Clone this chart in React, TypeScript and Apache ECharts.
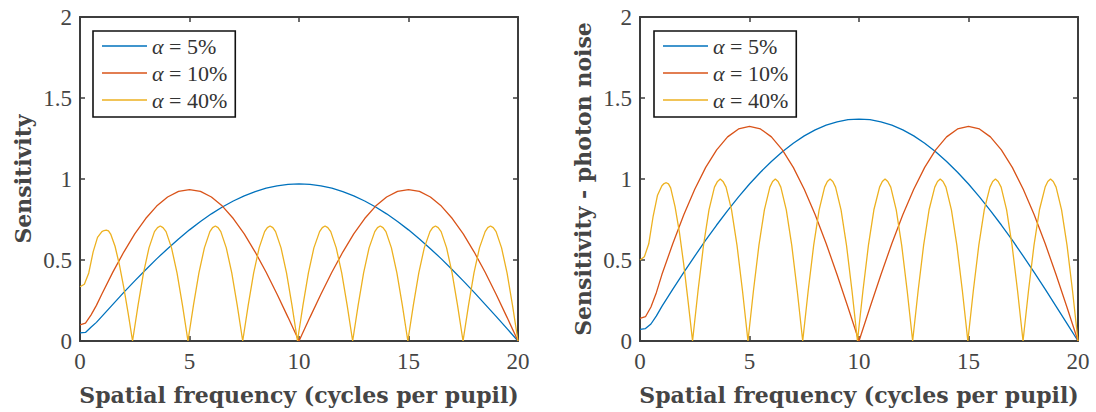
import React, { useEffect, useRef } from 'react';
import * as echarts from 'echarts';

const seriesNames = ['α = 5%', 'α = 10%', 'α = 40%'];
const xTickValues = [0, 5, 10, 15, 20];
const yTickValues = [0, 0.5, 1, 1.5, 2];
const xAxisTitle = 'Spatial frequency (cycles per pupil)';
const yAxisTitles = ['Sensitivity', 'Sensitivity - photon noise'];

const leftBlue = [[0,0.05],[0.25,0.053],[0.5,0.085],[0.75,0.115],[1,0.152],[1.5,0.226],[2,0.30],[2.5,0.371],[3,0.44],[3.5,0.507],[4,0.57],[4.5,0.63],[5,0.686],[5.5,0.738],[6,0.785],[6.5,0.827],[7,0.864],[7.5,0.896],[8,0.922],[8.5,0.943],[9,0.958],[9.5,0.967],[10,0.97],[10.5,0.967],[11,0.958],[11.5,0.943],[12,0.922],[12.5,0.896],[13,0.864],[13.5,0.827],[14,0.785],[14.5,0.738],[15,0.686],[15.5,0.63],[16,0.57],[16.5,0.507],[17,0.44],[17.5,0.371],[18,0.30],[18.5,0.226],[19,0.152],[19.5,0.076],[20,0]];
const leftRed = [[0,0.1],[0.25,0.11],[0.5,0.16],[0.75,0.22],[1,0.29],[1.5,0.425],[2,0.549],[2.5,0.661],[3,0.756],[3.5,0.833],[4,0.889],[4.5,0.924],[5,0.935],[5.5,0.924],[6,0.889],[6.5,0.833],[7,0.756],[7.5,0.661],[8,0.549],[8.5,0.424],[9,0.289],[9.5,0.146],[10,0],[10.5,0.146],[11,0.289],[11.5,0.424],[12,0.549],[12.5,0.661],[13,0.756],[13.5,0.833],[14,0.889],[14.5,0.924],[15,0.935],[15.5,0.924],[16,0.889],[16.5,0.833],[17,0.756],[17.5,0.661],[18,0.549],[18.5,0.424],[19,0.289],[19.5,0.146],[20,0]];
const leftYellow = [[0,0.335],[0.2,0.35],[0.4,0.42],[0.6,0.55],[0.8,0.64],[1.0,0.675],[1.1,0.682],[1.2,0.685],[1.3,0.68],[1.4,0.66],[1.6,0.585],[1.8,0.47],[2.0,0.33],[2.2,0.17],[2.4,0],
[2.65,0.22],[2.9,0.42],[3.15,0.575],[3.4,0.675],[3.54,0.70],[3.665,0.71],[3.79,0.70],[3.93,0.675],[4.18,0.575],[4.43,0.42],[4.68,0.22],[4.93,0],
[5.18,0.22],[5.43,0.42],[5.68,0.575],[5.93,0.675],[6.055,0.70],[6.18,0.71],[6.305,0.70],[6.43,0.675],[6.68,0.575],[6.93,0.42],[7.18,0.22],[7.43,0],
[7.68,0.22],[7.93,0.42],[8.18,0.575],[8.43,0.675],[8.555,0.70],[8.68,0.71],[8.805,0.70],[8.93,0.675],[9.18,0.575],[9.43,0.42],[9.68,0.22],[9.93,0],
[10.18,0.22],[10.43,0.42],[10.68,0.575],[10.94,0.675],[11.065,0.70],[11.19,0.71],[11.315,0.70],[11.45,0.675],[11.7,0.575],[11.95,0.42],[12.2,0.22],[12.45,0],
[12.7,0.22],[12.95,0.42],[13.2,0.575],[13.46,0.675],[13.585,0.70],[13.71,0.71],[13.835,0.70],[13.97,0.675],[14.22,0.575],[14.47,0.42],[14.72,0.22],[14.97,0],
[15.22,0.22],[15.47,0.42],[15.72,0.575],[15.98,0.675],[16.105,0.70],[16.23,0.71],[16.355,0.70],[16.49,0.675],[16.74,0.575],[16.99,0.42],[17.24,0.22],[17.49,0],
[17.74,0.22],[17.99,0.42],[18.24,0.575],[18.5,0.675],[18.62,0.70],[18.745,0.71],[18.87,0.70],[19.0,0.675],[19.25,0.575],[19.5,0.42],[19.75,0.22],[20,0]];

const rightBlue = [[0,0.072],[0.25,0.077],[0.5,0.105],[0.75,0.155],[1,0.214],[1.5,0.32],[2,0.423],[2.5,0.524],[3,0.622],[3.5,0.716],[4,0.805],[4.5,0.89],[5,0.969],[5.5,1.042],[6,1.108],[6.5,1.168],[7,1.221],[7.5,1.266],[8,1.303],[8.5,1.332],[9,1.353],[9.5,1.366],[10,1.37],[10.5,1.366],[11,1.353],[11.5,1.332],[12,1.303],[12.5,1.266],[13,1.221],[13.5,1.168],[14,1.108],[14.5,1.042],[15,0.969],[15.5,0.89],[16,0.805],[16.5,0.716],[17,0.622],[17.5,0.524],[18,0.423],[18.5,0.32],[19,0.214],[19.5,0.107],[20,0]];
const rightRed = [[0,0.14],[0.25,0.15],[0.5,0.21],[0.75,0.3],[1,0.41],[1.5,0.602],[2,0.779],[2.5,0.937],[3,1.072],[3.5,1.18],[4,1.26],[4.5,1.309],[5,1.325],[5.5,1.309],[6,1.26],[6.5,1.18],[7,1.072],[7.5,0.937],[8,0.779],[8.5,0.602],[9,0.409],[9.5,0.207],[10,0],[10.5,0.207],[11,0.409],[11.5,0.602],[12,0.779],[12.5,0.937],[13,1.072],[13.5,1.18],[14,1.26],[14.5,1.309],[15,1.325],[15.5,1.309],[16,1.26],[16.5,1.18],[17,1.072],[17.5,0.937],[18,0.779],[18.5,0.602],[19,0.409],[19.5,0.207],[20,0]];
const rightYellow = [[0,0.5],[0.2,0.52],[0.4,0.6],[0.6,0.77],[0.8,0.9],[1.0,0.958],[1.1,0.972],[1.2,0.977],[1.3,0.97],[1.4,0.945],[1.6,0.83],[1.8,0.67],[2.0,0.47],[2.2,0.24],[2.4,0],
[2.65,0.31],[2.9,0.59],[3.15,0.81],[3.4,0.95],[3.54,0.985],[3.665,1.0],[3.79,0.985],[3.93,0.95],[4.18,0.81],[4.43,0.59],[4.68,0.31],[4.93,0],
[5.18,0.31],[5.43,0.59],[5.68,0.81],[5.93,0.95],[6.055,0.985],[6.18,1.0],[6.305,0.985],[6.43,0.95],[6.68,0.81],[6.93,0.59],[7.18,0.31],[7.43,0],
[7.68,0.31],[7.93,0.59],[8.18,0.81],[8.43,0.95],[8.555,0.985],[8.68,1.0],[8.805,0.985],[8.93,0.95],[9.18,0.81],[9.43,0.59],[9.68,0.31],[9.93,0],
[10.18,0.31],[10.43,0.59],[10.68,0.81],[10.94,0.95],[11.065,0.985],[11.19,1.0],[11.315,0.985],[11.45,0.95],[11.7,0.81],[11.95,0.59],[12.2,0.31],[12.45,0],
[12.7,0.31],[12.95,0.59],[13.2,0.81],[13.46,0.95],[13.585,0.985],[13.71,1.0],[13.835,0.985],[13.97,0.95],[14.22,0.81],[14.47,0.59],[14.72,0.31],[14.97,0],
[15.22,0.31],[15.47,0.59],[15.72,0.81],[15.98,0.95],[16.105,0.985],[16.23,1.0],[16.355,0.985],[16.49,0.95],[16.74,0.81],[16.99,0.59],[17.24,0.31],[17.49,0],
[17.74,0.31],[17.99,0.59],[18.24,0.81],[18.5,0.95],[18.62,0.985],[18.745,1.0],[18.87,0.985],[19.0,0.95],[19.25,0.81],[19.5,0.59],[19.75,0.31],[20,0]];

const COLORS = ['#0072BD', '#D95319', '#EDB120'];
const AX = '#3d3d3d';
const TX = '#454545';
const FONT = 'Liberation Serif';
const BOLD = 'DejaVu Serif';

function makeAxes(g: number) {
  const xCommon = {
    type: 'value', gridIndex: g, min: xTickValues[0], max: xTickValues[xTickValues.length - 1], interval: 5,
    axisLine: { show: true, onZero: false, lineStyle: { color: AX, width: 2 } },
    axisTick: { show: true, inside: true, length: 5, lineStyle: { color: AX, width: 1.5 } },
    splitLine: { show: false },
  };
  const yCommon = {
    type: 'value', gridIndex: g, min: yTickValues[0], max: yTickValues[yTickValues.length - 1], interval: 0.5,
    axisLine: { show: true, onZero: false, lineStyle: { color: AX, width: 2 } },
    axisTick: { show: true, inside: true, length: 5, lineStyle: { color: AX, width: 1.5 } },
    splitLine: { show: false },
  };
  const x = [
    {
      ...xCommon, position: 'bottom',
      axisLabel: { color: TX, fontFamily: FONT, fontSize: 23, margin: 9 },
      name: xAxisTitle, nameLocation: 'middle', nameGap: 43,
      nameTextStyle: { color: TX, fontFamily: BOLD, fontWeight: 'bold', fontSize: 22 },
    },
    { ...xCommon, position: 'top', axisLabel: { show: false } },
  ];
  const y = [
    {
      ...yCommon, position: 'left',
      axisLabel: { color: TX, fontFamily: FONT, fontSize: 23, margin: 8 },
      name: yAxisTitles[g], nameLocation: 'middle', nameGap: 46, nameRotate: 90,
      nameTextStyle: { color: TX, fontFamily: BOLD, fontWeight: 'bold', fontSize: 22 },
    },
    { ...yCommon, position: 'right', axisLabel: { show: false } },
  ];
  return { x, y };
}

function makeLegend(left: number) {
  return {
    left, top: 31, orient: 'vertical', selectedMode: false,
    data: seriesNames.map((n, i) => ({ name: n, icon: 'rect', itemStyle: { color: COLORS[i] } })),
    itemWidth: 45, itemHeight: 1.4, itemGap: 5,
    padding: [4, 8, 6, 9],
    borderColor: '#111', borderWidth: 1.6, backgroundColor: '#fff',
    formatter: (name: string) => name.replace('α', '{a|α}'),
    textStyle: {
      color: '#333', fontFamily: FONT, fontSize: 22,
      rich: { a: { fontStyle: 'italic', fontFamily: FONT, fontSize: 22, color: '#333' } },
    },
  };
}

export default function App() {
  const ref = useRef<HTMLDivElement>(null);
  useEffect(() => {
    if (!ref.current) return;
    const chart = echarts.init(ref.current, undefined, { renderer: 'svg' });
    const a0 = makeAxes(0);
    const a1 = makeAxes(1);
    const panels = [
      [leftBlue, leftRed, leftYellow],
      [rightBlue, rightRed, rightYellow],
    ];
    const series: any[] = [];
    panels.forEach((sets, p) => {
      sets.forEach((d, i) => {
        series.push({
          type: 'line', name: seriesNames[i], data: d,
          xAxisIndex: p * 2, yAxisIndex: p * 2,
          symbol: 'none', smooth: false,
          lineStyle: { color: COLORS[i], width: 1.3 },
          itemStyle: { color: COLORS[i] },
          z: 3,
        });
      });
    });
    chart.setOption({
      animation: false,
      backgroundColor: '#fff',
      grid: [
        { left: 80, top: 17, width: 438, height: 324 },
        { left: 640, top: 17, width: 438, height: 324 },
      ],
      xAxis: [...a0.x, ...a1.x],
      yAxis: [...a0.y, ...a1.y],
      legend: [makeLegend(93), makeLegend(654)],
      series,
    });
    return () => chart.dispose();
  }, []);
  return <div ref={ref} style={{ position: 'fixed', left: 0, top: 0, width: 1096, height: 412, background: '#fff' }} />;
}
